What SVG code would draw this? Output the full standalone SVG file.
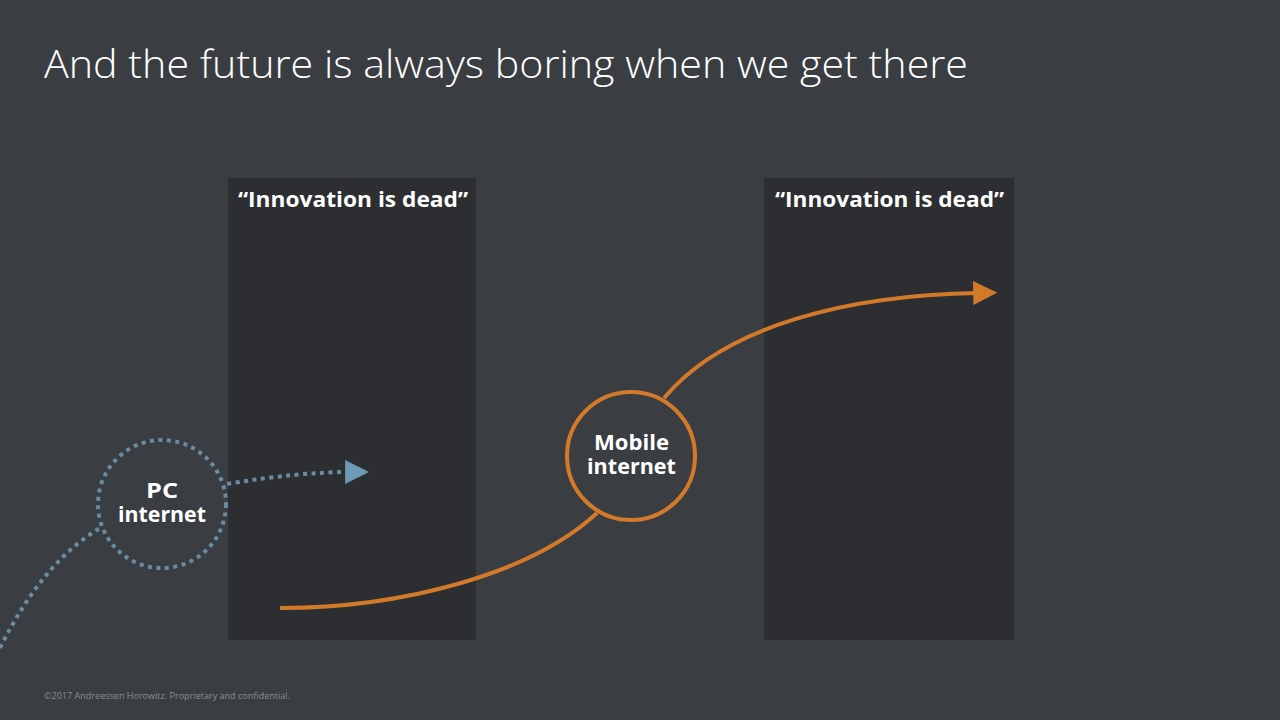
<svg xmlns="http://www.w3.org/2000/svg" width="1280" height="720" viewBox="0 0 1280 720">
  <style>
    .title { font-family: "Open Sans", Lato, sans-serif; font-weight: 300; font-size: 38px; fill: #ffffff; }
    .head { font-family: "Open Sans", Lato, sans-serif; font-weight: 700; font-size: 21px; fill: #ffffff; }
    .label { font-family: "Open Sans", Lato, sans-serif; font-weight: 700; font-size: 21px; fill: #ffffff; }
    .foot { font-family: "Open Sans", Lato, sans-serif; font-size: 9px; fill: #8a8d91; }
    .panel { fill: #2c2e31; }
    .pc { fill: none; stroke: #6a8ba1; stroke-width: 4; stroke-dasharray: 4 4.5; }
    .mob { fill: none; stroke: #d2792a; stroke-width: 4; }
  </style>
  <defs>
    <marker id="arrowBlue" viewBox="0 0 10 10" refX="2" refY="5" markerWidth="6" markerHeight="6" markerUnits="strokeWidth" orient="auto">
      <path d="M0,0 L10,5 L0,10 Z" fill="#6f9ab5"/>
    </marker>
    <marker id="arrowOrange" viewBox="0 0 10 10" refX="2" refY="5" markerWidth="6" markerHeight="6" markerUnits="strokeWidth" orient="auto">
      <path d="M0,0 L10,5 L0,10 Z" fill="#d2792a"/>
    </marker>
  </defs>

  <rect width="1280" height="720" fill="#3a3d42"/>

  <text class="title" x="44" y="78" textLength="924" lengthAdjust="spacingAndGlyphs">And the future is always boring when we get there</text>

  <g id="panel-left">
    <rect class="panel" x="228" y="178" width="248" height="462"/>
    <text class="head" x="238" y="207" textLength="230" lengthAdjust="spacingAndGlyphs">“Innovation is dead”</text>
  </g>
  <g id="panel-right">
    <rect class="panel" x="764" y="178" width="250" height="462"/>
    <text class="head" x="775" y="207" textLength="229" lengthAdjust="spacingAndGlyphs">“Innovation is dead”</text>
  </g>

  <g id="connectors">
    <path class="pc" d="M0,648 C28,592 60,552 100,528"/>
    <path class="pc" d="M227,484 C275,476 315,472 350,472" marker-end="url(#arrowBlue)"/>
    <path class="mob" d="M280,608 C400,608 530,575 597,513"/>
    <path class="mob" d="M664,398 C725,325 850,295 978,293" marker-end="url(#arrowOrange)"/>
  </g>

  <g id="pc-internet">
    <circle class="pc" cx="162" cy="504" r="64"/>
    <text class="label" x="146" y="498" textLength="32" lengthAdjust="spacingAndGlyphs">PC</text>
    <text class="label" x="118" y="522" textLength="88" lengthAdjust="spacingAndGlyphs">internet</text>
  </g>

  <g id="mobile-internet">
    <circle class="mob" cx="631" cy="456" r="64" fill="#3a3d42"/>
    <text class="label" x="594" y="450" textLength="75" lengthAdjust="spacingAndGlyphs">Mobile</text>
    <text class="label" x="587" y="474" textLength="89" lengthAdjust="spacingAndGlyphs">internet</text>
  </g>

  <text class="foot" x="44" y="699" textLength="246" lengthAdjust="spacingAndGlyphs">©2017 Andreessen Horowitz. Proprietary and confidential.</text>
</svg>
